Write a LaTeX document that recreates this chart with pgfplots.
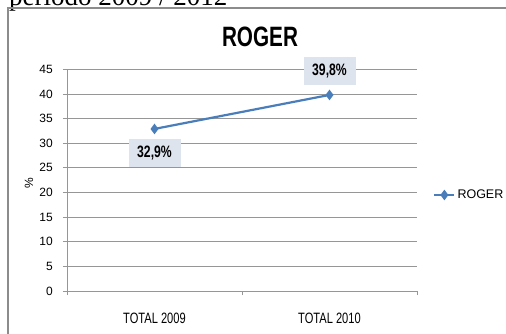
\documentclass[border=0pt]{standalone}
\usepackage{pgfplots}
\pgfplotsset{compat=1.18}
\usepackage{fontspec}
\setmainfont{Liberation Sans}
\newfontfamily\narrowfont{Liberation Sans}[FakeStretch=0.74]
\newfontfamily\seriffont{Liberation Serif}
\definecolor{rogerblue}{RGB}{74,126,187}
\definecolor{labelfill}{RGB}{221,228,238}
\definecolor{gridgray}{RGB}{150,150,150}
\definecolor{framegray}{RGB}{140,140,140}
\begin{document}
\begin{tikzpicture}[x=1pt,y=1pt]
\begin{axis}[
  name=ax, scale only axis,
  width=350pt, height=221.7pt,
  xmin=-0.5, xmax=1.5, ymin=0, ymax=45,
  axis lines*=left,
  axis line style={gridgray, line width=0.8pt},
  ytick={0,5,...,45},
  ymajorgrids, grid style={gridgray, line width=0.8pt},
  tick align=outside, major tick length=4pt,
  tick style={gridgray, line width=0.8pt},
  /pgf/number format/assume math mode=true,
  yticklabel style={font=\fontsize{12}{14}\selectfont, inner sep=0pt, xshift=-10pt},
  ylabel={\%}, ylabel style={font=\fontsize{12}{14}\selectfont, at={(-38pt,0.487)}, anchor=center, rotate=0},
  xtick={-0.5,0.5,1.5}, xticklabels={,,},
  extra x ticks={0,1}, extra x tick labels={TOTAL 2009,TOTAL 2010},
  extra x tick style={tick style={draw=none}, grid=none,
     xticklabel style={font=\narrowfont\fontsize{15}{17}\selectfont, anchor=base, yshift=-28pt, inner sep=0pt}},
  clip=false,
  legend style={at={(1.046,0.433)}, anchor=west, draw=none, fill=none,
     font=\fontsize{12.5}{14}\selectfont, inner sep=0pt},
  legend image code/.code={\draw[mark repeat=2,mark phase=2,#1] plot coordinates {(0pt,0pt) (10pt,0pt) (20pt,0pt)};},
]
\addplot[rogerblue, line width=2.2pt, mark=diamond*, mark size=3.5pt] coordinates {(0,32.9) (1,39.8)};
\addlegendentry{ROGER}
\addplot[draw=none, forget plot, nodes near coords, point meta=explicit symbolic,
  every node near coord/.append style={anchor=center, yshift=-24pt, fill=labelfill, text=black,
    minimum width=52pt, minimum height=28pt, inner sep=0pt,
    font=\narrowfont\bfseries\fontsize{16.5}{18}\selectfont}]
  coordinates {(0,32.9) [32,9\%]};
\addplot[draw=none, forget plot, nodes near coords, point meta=explicit symbolic,
  every node near coord/.append style={anchor=center, yshift=24pt, fill=labelfill, text=black,
    minimum width=52pt, minimum height=28pt, inner sep=0pt,
    font=\narrowfont\bfseries\fontsize{16.5}{18}\selectfont}]
  coordinates {(1,39.8) [39,8\%]};
\end{axis}
\begin{scope}[shift={(ax.south west)}]
\node[anchor=base west, inner sep=0pt, font=\seriffont\fontsize{27}{30}\selectfont] at (-58,285.5) {período 2009 / 2012};
\draw[framegray, line width=1.3pt] (-59,-70) -- (-59,283) -- (480,283);
\node[anchor=base, inner sep=0pt, font=\narrowfont\bfseries\fontsize{28}{30}\selectfont] at (193,245) {ROGER};
\end{scope}
\pgfresetboundingbox
\path[use as bounding box] ([shift={(-67,-42)}]ax.south west) rectangle ([shift={(439,291)}]ax.south west);
\end{tikzpicture}
\end{document}
